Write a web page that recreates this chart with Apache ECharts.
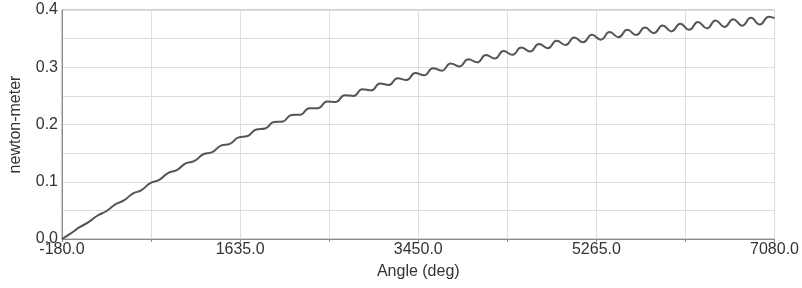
<!DOCTYPE html>
<html>
<head>
<meta charset="utf-8">
<script src="https://cdn.jsdelivr.net/npm/echarts@6/dist/echarts.min.js"></script>
<style>
html,body{margin:0;padding:0;background:#fff;}
#chart{width:802px;height:288px;}
</style>
</head>
<body>
<div id="chart"></div>
<script>
// Angle samples (deg)
var angles = [
  -180, -90, 0, 90, 180, 270, 360, 450, 540, 630,
  720, 810, 900, 990, 1080, 1170, 1260, 1350, 1440, 1530,
  1620, 1710, 1800, 1890, 1980, 2070, 2160, 2250, 2340, 2430,
  2520, 2610, 2700, 2790, 2880, 2970, 3060, 3150, 3240, 3330,
  3420, 3510, 3600, 3690, 3780, 3870, 3960, 4050, 4140, 4230,
  4320, 4410, 4500, 4590, 4680, 4770, 4860, 4950, 5040, 5130,
  5220, 5310, 5400, 5490, 5580, 5670, 5760, 5850, 5940, 6030,
  6120, 6210, 6300, 6390, 6480, 6570, 6660, 6750, 6840, 6930,
  7020, 7080
];
// Torque (newton-meter)
var torque = [
  0.0000, 0.0098, 0.0206, 0.0294, 0.0406, 0.0485, 0.0602, 0.0673, 0.0791, 0.0855,
  0.0974, 0.1032, 0.1151, 0.1203, 0.1321, 0.1364, 0.1480, 0.1517, 0.1632, 0.1662,
  0.1775, 0.1799, 0.1913, 0.1930, 0.2043, 0.2054, 0.2168, 0.2172, 0.2286, 0.2286,
  0.2401, 0.2395, 0.2512, 0.2499, 0.2617, 0.2597, 0.2716, 0.2690, 0.2810, 0.2777,
  0.2899, 0.2860, 0.2984, 0.2940, 0.3064, 0.3015, 0.3141, 0.3086, 0.3213, 0.3154,
  0.3282, 0.3217, 0.3346, 0.3277, 0.3406, 0.3333, 0.3464, 0.3387, 0.3518, 0.3437,
  0.3568, 0.3482, 0.3614, 0.3524, 0.3656, 0.3562, 0.3695, 0.3596, 0.3729, 0.3626,
  0.3760, 0.3654, 0.3789, 0.3680, 0.3816, 0.3704, 0.3840, 0.3726, 0.3863, 0.3746,
  0.3884, 0.3858
];
var xTickLabels = ['-180.0', '1635.0', '3450.0', '5265.0', '7080.0'];
var yTickLabels = ['0.0', '0.1', '0.2', '0.3', '0.4'];

var seriesData = angles.map(function (a, i) { return [a, torque[i]]; });

var chart = echarts.init(document.getElementById('chart'), null, {renderer: 'canvas'});
var font = '"Liberation Sans", Arial, sans-serif';
chart.setOption({
  animation: false,
  backgroundColor: '#ffffff',
  grid: {left: 56, right: 27, top: 10, bottom: 49, show: true, borderColor: '#9a9a9a', borderWidth: 1, backgroundColor: 'transparent'},
  xAxis: {
    type: 'value',
    min: -180,
    max: 7080,
    interval: 907.5,
    name: 'Angle (deg)',
    nameLocation: 'middle',
    nameGap: 25,
    nameTextStyle: {fontFamily: font, fontSize: 16, color: '#333'},
    axisLine: {show: true, onZero: false, lineStyle: {color: '#8a8a8a', width: 1}},
    axisTick: {show: true, length: 3, lineStyle: {color: '#8a8a8a'}},
    axisLabel: {
      fontFamily: font, fontSize: 16, color: '#333', margin: 3,
      showMinLabel: true, showMaxLabel: true,
      formatter: function (v) {
        var k = Math.round((v + 180) / 907.5);
        if (k % 2 !== 0) return '';
        return xTickLabels[k / 2] || '';
      }
    },
    splitLine: {show: true, lineStyle: {color: '#dedede', width: 1}}
  },
  yAxis: {
    type: 'value',
    min: 0,
    max: 0.4,
    interval: 0.05,
    name: 'newton-meter',
    nameLocation: 'middle',
    nameGap: 38,
    nameTextStyle: {fontFamily: font, fontSize: 16, color: '#333'},
    axisLine: {show: true, onZero: false, lineStyle: {color: '#8a8a8a', width: 1}},
    axisTick: {show: false},
    axisLabel: {
      fontFamily: font, fontSize: 16, color: '#333', margin: 4,
      formatter: function (v) {
        var k = Math.round(v / 0.05);
        if (k % 2 !== 0) return '';
        return yTickLabels[k / 2] || '';
      }
    },
    splitLine: {show: true, lineStyle: {color: '#dedede', width: 1}}
  },
  series: [{
    type: 'line',
    data: seriesData,
    smooth: 0.5,
    showSymbol: false,
    symbol: 'none',
    lineStyle: {color: '#555555', width: 2},
    clip: true
  }]
});
</script>
</body>
</html>
